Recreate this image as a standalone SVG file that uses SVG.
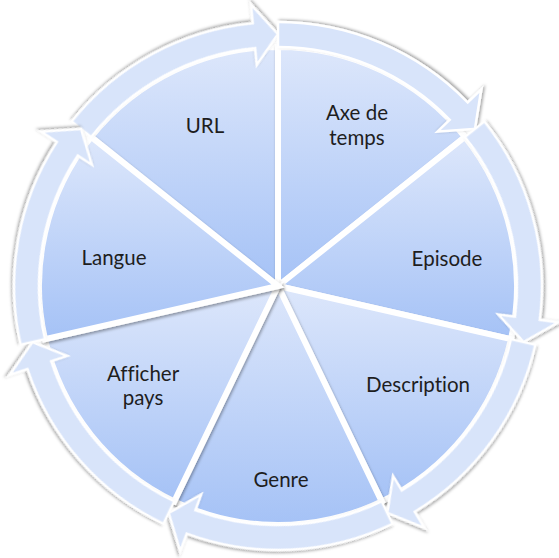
<svg xmlns="http://www.w3.org/2000/svg" width="559" height="558" viewBox="0 0 559 558">
<defs>
<linearGradient id="wg" x1="0" y1="0" x2="0" y2="1">
<stop offset="0" stop-color="#dde7fb"/>
<stop offset="1" stop-color="#a5c2f6"/>
</linearGradient>
<filter id="sh" x="-10%" y="-10%" width="120%" height="120%">
<feDropShadow dx="1" dy="2" stdDeviation="1.6" flood-color="#000" flood-opacity="0.35"/>
</filter>
<path id="arr" d="M239,0 A239,239 0 0 1 166.24,171.72 L154.41,159.5 L157.12,197.02 L196.84,203.33 L183.63,189.68 A264,264 0 0 0 264,0 Z"/>
</defs>
<style>
.w{fill:url(#wg);stroke:#fff;stroke-width:6;stroke-linejoin:miter;filter:url(#sh)}
.a{fill:#d8e4fa;stroke:#fff;stroke-width:2.5;filter:url(#sh)}
text{font-family:Lato,"Liberation Sans",sans-serif;font-size:20.5px;fill:#1e1e1e;text-anchor:middle;font-variant-ligatures:none}
</style>
<rect width="559" height="558" fill="#fff"/>
<g id="wedges">
<g id="n-url"><path class="w" d="M278,286 L91.14,136.99 A239,239 0 0 1 278,47 Z"/></g>
<g id="n-axe"><path class="w" d="M278,286 L278,47 A239,239 0 0 1 464.86,136.99 Z"/></g>
<g id="n-episode"><path class="w" d="M278,286 L464.86,136.99 A239,239 0 0 1 511.01,339.18 Z"/></g>
<g id="n-description"><path class="w" d="M278,286 L511.01,339.18 A239,239 0 0 1 381.7,501.33 Z"/></g>
<g id="n-genre"><path class="w" d="M278,286 L381.7,501.33 A239,239 0 0 1 174.3,501.33 Z"/></g>
<g id="n-afficher"><path class="w" d="M278,286 L174.3,501.33 A239,239 0 0 1 44.99,339.18 Z"/></g>
<g id="n-langue"><path class="w" d="M278,286 L44.99,339.18 A239,239 0 0 1 91.14,136.99 Z"/></g>
</g>
<g id="connectors">
<use href="#arr" class="a" transform="translate(278,286) rotate(-141.4286)"/>
<use href="#arr" class="a" transform="translate(278,286) rotate(-90)"/>
<use href="#arr" class="a" transform="translate(278,286) rotate(-38.5714)"/>
<use href="#arr" class="a" transform="translate(278,286) rotate(12.8571)"/>
<use href="#arr" class="a" transform="translate(278,286) rotate(64.2857)"/>
<use href="#arr" class="a" transform="translate(278,286) rotate(115.7143)"/>
<use href="#arr" class="a" transform="translate(278,286) rotate(167.1429)"/>
</g>
<g id="labels">
<text x="205" y="133">URL</text>
<text x="357" y="120">Axe de</text>
<text x="357" y="145">temps</text>
<text x="447" y="266">Episode</text>
<text x="418" y="392">Description</text>
<text x="281" y="487">Genre</text>
<text x="143" y="381">Afficher</text>
<text x="143" y="405">pays</text>
<text x="114" y="265">Langue</text>
</g>
</svg>
